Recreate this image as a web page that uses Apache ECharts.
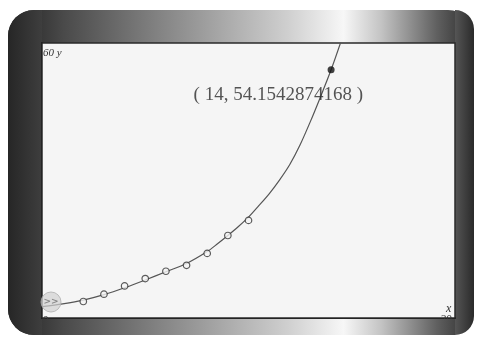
<!DOCTYPE html>
<html><head><meta charset="utf-8">
<script src="https://cdn.jsdelivr.net/npm/echarts@6/dist/echarts.min.js"></script>
<style>html,body{margin:0;padding:0;background:#fff}#c{width:482px;height:345px}</style>
</head><body><div id="c"></div>
<script>
// data points (hollow circles)
const pointX = [2, 3, 4, 5, 6, 7, 8, 9, 10];
const pointY = [3.6, 5.2, 7.0, 8.6, 10.2, 11.5, 14.1, 18.0, 21.3];
// fitted curve, values
const curveX = [0, 1, 2, 3, 4, 5, 6, 7, 8, 8.5, 9, 9.5, 10, 10.5, 11, 11.5, 12, 12.5, 13, 13.5, 14, 14.5];
const curveY = [2.5, 3.1, 3.9, 5.1, 6.6, 8.3, 10.1, 11.9, 14.5, 16.2, 18.0, 19.9, 22.0, 24.5, 27.1, 30.1, 33.5, 37.8, 42.9, 48.4, 54.1542874168, 60.6];
// highlighted point
const hiX = [14];
const hiY = [54.1542874168];
// axis ranges / tick labels
const xRange = [0, 20];
const yRange = [0, 60];
const xTickLabels = ['0', '20'];
const yTickLabel = '60';
const xName = 'x';
const yName = 'y';

const chart = echarts.init(document.getElementById('c'), null, {renderer: 'canvas'});
const G = {left: 42, top: 43, w: 413, h: 275};
const frameGrad = {
  type: 'linear', x: 8, y: 0, x2: 474, y2: 0, global: true,
  colorStops: [
    {offset: 0, color: '#2c2c2c'}, {offset: 0.07, color: '#383838'},
    {offset: 0.12, color: '#4a4a4a'},
    {offset: 0.35, color: '#8a8a8a'}, {offset: 0.6, color: '#cfcfcf'},
    {offset: 0.72, color: '#f7f7f7'}, {offset: 0.8, color: '#c4c4c4'},
    {offset: 0.92, color: '#606060'}, {offset: 1, color: '#2a2a2a'}
  ]
};
const leftGrad = {type: 'linear', x: 0, y: 0, x2: 1, y2: 0,
  colorStops: [{offset: 0, color: '#262626'}, {offset: 1, color: '#3e3e3e'}]};
const rightGrad = {type: 'linear', x: 0, y: 0, x2: 1, y2: 0,
  colorStops: [{offset: 0, color: '#555'}, {offset: 1, color: '#2a2a2a'}]};

chart.setOption({
  animation: false,
  grid: {left: G.left, top: G.top, width: G.w, height: G.h, show: true,
         backgroundColor: '#f5f5f5', borderColor: '#2a2a2a', borderWidth: 1.5, z: 1},
  xAxis: {type: 'value', min: xRange[0], max: xRange[1], interval: 1,
    axisLine: {onZero: false, lineStyle: {color: '#111', width: 2}},
    axisTick: {show: false}, axisLabel: {show: false}, splitLine: {show: false}},
  yAxis: {type: 'value', min: yRange[0], max: yRange[1], interval: 3,
    axisLine: {show: true, onZero: false, lineStyle: {color: '#111', width: 2}},
    axisTick: {show: true, inside: true, length: 2, lineStyle: {color: '#222'}},
    axisLabel: {show: false}, splitLine: {show: false}},
  graphic: [
    {type: 'rect', z: -10, shape: {x: 8, y: 10, width: 466, height: 325, r: 26},
     style: {fill: frameGrad}},
    {type: 'rect', z: -9, shape: {x: 8, y: 10, width: 34, height: 325, r: [26, 0, 0, 26]},
     style: {fill: leftGrad}},
    {type: 'rect', z: -9, shape: {x: 455, y: 10, width: 19, height: 325, r: [0, 19, 19, 0]},
     style: {fill: rightGrad}}
  ],
  series: [
    {type: 'line', data: curveX.map((x, i) => [x, curveY[i]]), smooth: 0.3, showSymbol: false,
     lineStyle: {color: '#555', width: 1.2}, clip: true, z: 3},
    {type: 'scatter', data: pointX.map((x, i) => [x, pointY[i]]), symbol: 'circle', symbolSize: 6.5,
     itemStyle: {color: '#f5f5f5', borderColor: '#333', borderWidth: 1.2}, z: 4},
    {type: 'scatter', data: hiX.map((x, i) => [x, hiY[i]]), symbolSize: 7,
     itemStyle: {color: '#111'}, z: 5,
     label: {show: true, position: [-134, 29], align: 'left', verticalAlign: 'middle',
       formatter: () => '( ' + hiX[0] + ', ' + hiY[0] + ' )',
       fontFamily: 'Liberation Serif', fontSize: 19, color: '#2a2a2a'}}
  ]
});

const p0 = chart.convertToPixel({gridIndex: 0}, [xRange[0], yRange[1]]);
const p1 = chart.convertToPixel({gridIndex: 0}, [xRange[1], yRange[0]]);
chart.setOption({graphic: [
  {}, {}, {},
  {type: 'text', z: 10, x: p0[0] + 1, y: p0[1] + 5,
   style: {text: yTickLabel + ' ' + yName, font: 'italic 11px "Liberation Serif"', fill: '#333'}},
  {type: 'text', z: 10, x: p1[0] - 9, y: p1[1] - 15,
   style: {text: xName, font: 'italic 12px "Liberation Serif"', fill: '#333'}},
  {type: 'text', z: 10, x: p0[0] + 1, y: p1[1] - 3,
   style: {text: xTickLabels[0], font: '11px "Liberation Serif"', fill: '#333'}},
  {type: 'text', z: 10, x: p1[0] - 14, y: p1[1] - 4,
   style: {text: xTickLabels[1], font: '11px "Liberation Serif"', fill: '#333'}},
  {type: 'rect', z: 20, shape: {x: 42, y: p1[1] + 1, width: 413, height: 16},
   style: {fill: frameGrad}},
  {type: 'circle', z: 20, shape: {cx: 51, cy: 302, r: 10},
   style: {fill: 'rgba(210,210,210,0.7)', stroke: 'rgba(175,175,175,0.8)', lineWidth: 1}},
  {type: 'text', z: 21, x: 51, y: 302,
   style: {text: '>>', font: 'bold 9px "DejaVu Sans"', fill: '#888', align: 'center', verticalAlign: 'middle'}}
]});
</script></body></html>
